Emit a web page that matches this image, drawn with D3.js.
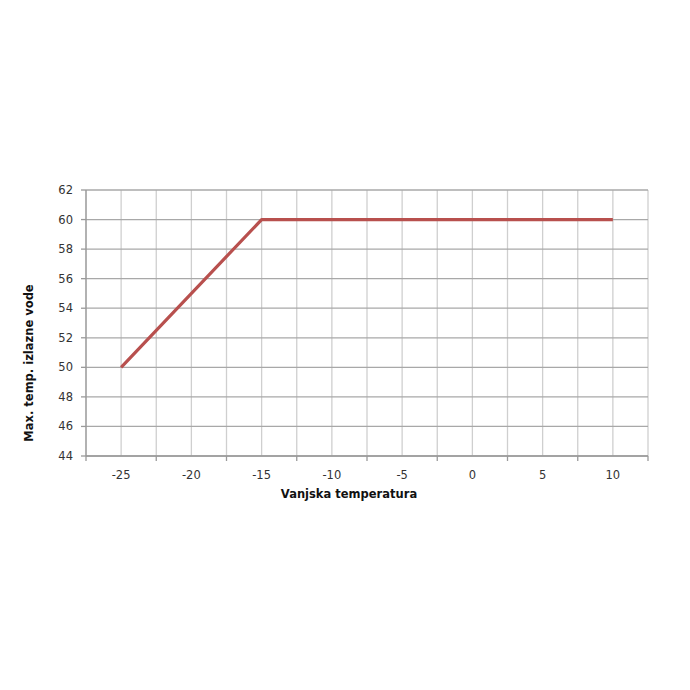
<!DOCTYPE html>
<html>
<head>
<meta charset="utf-8">
<script src="https://cdn.jsdelivr.net/npm/d3@7"></script>
<style>
	body { margin: 0; background: #fff; }
	svg text { font-family: "Century Gothic", "DejaVu Sans", sans-serif; fill: #222; }
</style>
</head>
<body>
<svg id="chart" width="690" height="690"></svg>
<script>
// data
var outsideTemp = [-25, -15, 10];
var maxWaterTemp = [50, 60, 60];
var xTickLabels = [-25, -20, -15, -10, -5, 0, 5, 10];
var yTickLabels = [44, 46, 48, 50, 52, 54, 56, 58, 60, 62];
var xGrid = d3.range(-27.5, 12.6, 2.5);
var xTickMarks = d3.range(-27.5, 12.6, 5);

var svg = d3.select("#chart");

var x = d3.scaleLinear().domain([-27.5, 12.5]).range([86, 648]);
var y = d3.scaleLinear().domain([44, 62]).range([456, 190]);

// vertical gridlines (light)
svg.append("g")
	.selectAll("line")
	.data(xGrid)
	.enter()
	.append("line")
	.attr("x1", d => x(d))
	.attr("x2", d => x(d))
	.attr("y1", y(62))
	.attr("y2", y(44))
	.style("stroke", "#cfcfcf")
	.style("stroke-width", 1.3);

// horizontal gridlines (darker)
svg.append("g")
	.selectAll("line")
	.data(yTickLabels)
	.enter()
	.append("line")
	.attr("x1", x(-27.5))
	.attr("x2", x(12.5))
	.attr("y1", d => y(d))
	.attr("y2", d => y(d))
	.style("stroke", "#a8a8a8")
	.style("stroke-width", 1.3);

// axes lines
svg.append("line")
	.attr("x1", x(-27.5)).attr("x2", x(-27.5))
	.attr("y1", y(62)).attr("y2", y(44))
	.style("stroke", "#9a9a9a").style("stroke-width", 1.3);
svg.append("line")
	.attr("x1", x(-27.5)).attr("x2", x(12.5))
	.attr("y1", y(44)).attr("y2", y(44))
	.style("stroke", "#9a9a9a").style("stroke-width", 1.3);

// y tick marks + labels
var yt = svg.append("g")
	.selectAll("g")
	.data(yTickLabels)
	.enter()
	.append("g")
	.attr("transform", d => "translate(" + x(-27.5) + "," + y(d) + ")");
yt.append("line")
	.attr("x1", -5).attr("x2", 0)
	.style("stroke", "#9a9a9a").style("stroke-width", 1.3);
yt.append("text")
	.attr("x", -13)
	.attr("dy", "0.35em")
	.attr("text-anchor", "end")
	.style("font-size", "11.5px")
	.style("fill", "#333")
	.text(d => d);

// x tick marks
svg.append("g")
	.selectAll("line")
	.data(xTickMarks)
	.enter()
	.append("line")
	.attr("x1", d => x(d)).attr("x2", d => x(d))
	.attr("y1", y(44)).attr("y2", y(44) + 5)
	.style("stroke", "#9a9a9a").style("stroke-width", 1.3);

// x labels
svg.append("g")
	.selectAll("text")
	.data(xTickLabels)
	.enter()
	.append("text")
	.attr("x", d => x(d))
	.attr("y", 479)
	.attr("text-anchor", "middle")
	.style("font-size", "11.5px")
	.style("fill", "#333")
	.text(d => d);

// axis titles
svg.append("text")
	.attr("x", 349)
	.attr("y", 498)
	.attr("text-anchor", "middle")
	.style("font-size", "11.5px")
	.style("font-weight", "bold")
	.style("fill", "#111")
	.text("Vanjska temperatura");

svg.append("text")
	.attr("transform", "translate(33," + 363 + ") rotate(-90)")
	.attr("text-anchor", "middle")
	.style("font-size", "11.5px")
	.style("font-weight", "bold")
	.style("fill", "#111")
	.text("Max. temp. izlazne vode");

// the line
var line = d3.line()
	.x(d => x(d[0]))
	.y(d => y(d[1]));

svg.append("path")
	.datum(d3.zip(outsideTemp, maxWaterTemp))
	.attr("d", line)
	.style("fill", "none")
	.style("stroke", "#b8504e")
	.style("stroke-width", 3.2)
	.style("stroke-linejoin", "round");
</script>
</body>
</html>
